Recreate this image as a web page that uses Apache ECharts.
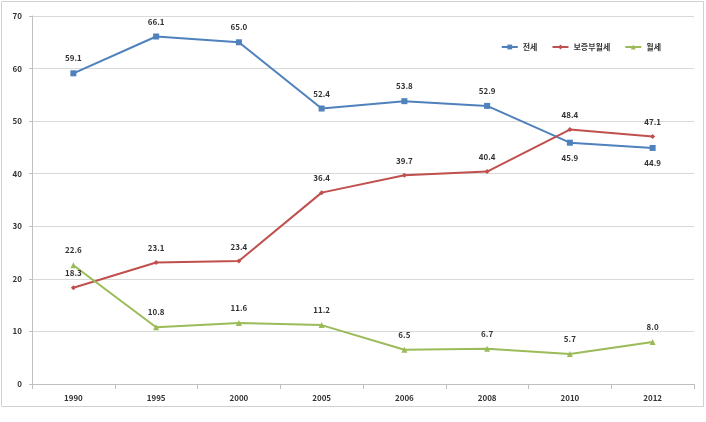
<!DOCTYPE html>
<html><head><meta charset="utf-8">
<script src="https://cdn.jsdelivr.net/npm/echarts@6/dist/echarts.min.js"></script>
<style>html,body{margin:0;padding:0;background:#fff}#c{width:706px;height:422px}</style>
</head><body><div id="c"></div>
<script>
const categories = ['1990','1995','2000','2005','2006','2008','2010','2012'];
const jeonse = [59.1, 66.1, 65.0, 52.4, 53.8, 52.9, 45.9, 44.9];
const bojeung = [18.3, 23.1, 23.4, 36.4, 39.7, 40.4, 48.4, 47.1];
const wolse = [22.6, 10.8, 11.6, 11.2, 6.5, 6.7, 5.7, 8.0];
const seriesNames = ['전세','보증부월세','월세'];
const yTicks = [0,10,20,30,40,50,60,70];

const chart = echarts.init(document.getElementById('c'));
const font = '"Noto Sans CJK KR", "Liberation Sans", sans-serif';
const lbl = {show:true, fontSize:8, fontWeight:'bold', color:'#333', fontFamily:font, distance:8};
chart.setOption({
  animation:false,
  graphic:[{type:'rect', shape:{x:1.5,y:1.5,width:702,height:405}, style:{fill:'none', stroke:'#d0d0d0', lineWidth:1}}],
  grid:{left:32, right:12, top:16, bottom:38},
  legend:{
    top:38, right:40, itemWidth:16, itemHeight:6, itemGap:14,
    textStyle:{fontSize:8, fontWeight:'bold', color:'#333', fontFamily:font},
    data:seriesNames
  },
  xAxis:{
    type:'category', data:categories, boundaryGap:true,
    axisLine:{lineStyle:{color:'#bfbfbf'}},
    axisTick:{show:true, lineStyle:{color:'#bfbfbf'}},
    axisLabel:{fontSize:8, fontWeight:'bold', color:'#333', fontFamily:font, margin:10}
  },
  yAxis:{
    type:'value', min:0, max:70, interval:10,
    axisLine:{show:true, lineStyle:{color:'#bfbfbf'}},
    axisTick:{show:true, length:3, lineStyle:{color:'#bfbfbf'}},
    splitLine:{lineStyle:{color:'#d9d9d9'}},
    axisLabel:{fontSize:8, fontWeight:'bold', color:'#333', fontFamily:font, margin:10,
      formatter:v=>yTicks.includes(v)?String(v):''}
  },
  series:[
    {name:seriesNames[0], type:'line', data:jeonse.map((v,i)=>({value:v, label:{position: i>=6?'bottom':'top'}})),
     color:'#4F81BD', symbol:'rect', symbolSize:6, lineStyle:{width:2},
     label:Object.assign({}, lbl, {formatter:p=>p.value.toFixed(1)})},
    {name:seriesNames[1], type:'line', data:bojeung,
     color:'#C0504D', symbol:'diamond', symbolSize:5, lineStyle:{width:2},
     label:Object.assign({position:'top'}, lbl, {formatter:p=>p.value.toFixed(1)})},
    {name:seriesNames[2], type:'line', data:wolse,
     color:'#9BBB59', symbol:'triangle', symbolSize:6, lineStyle:{width:2},
     label:Object.assign({position:'top'}, lbl, {formatter:p=>p.value.toFixed(1)})}
  ]
});
</script></body></html>
